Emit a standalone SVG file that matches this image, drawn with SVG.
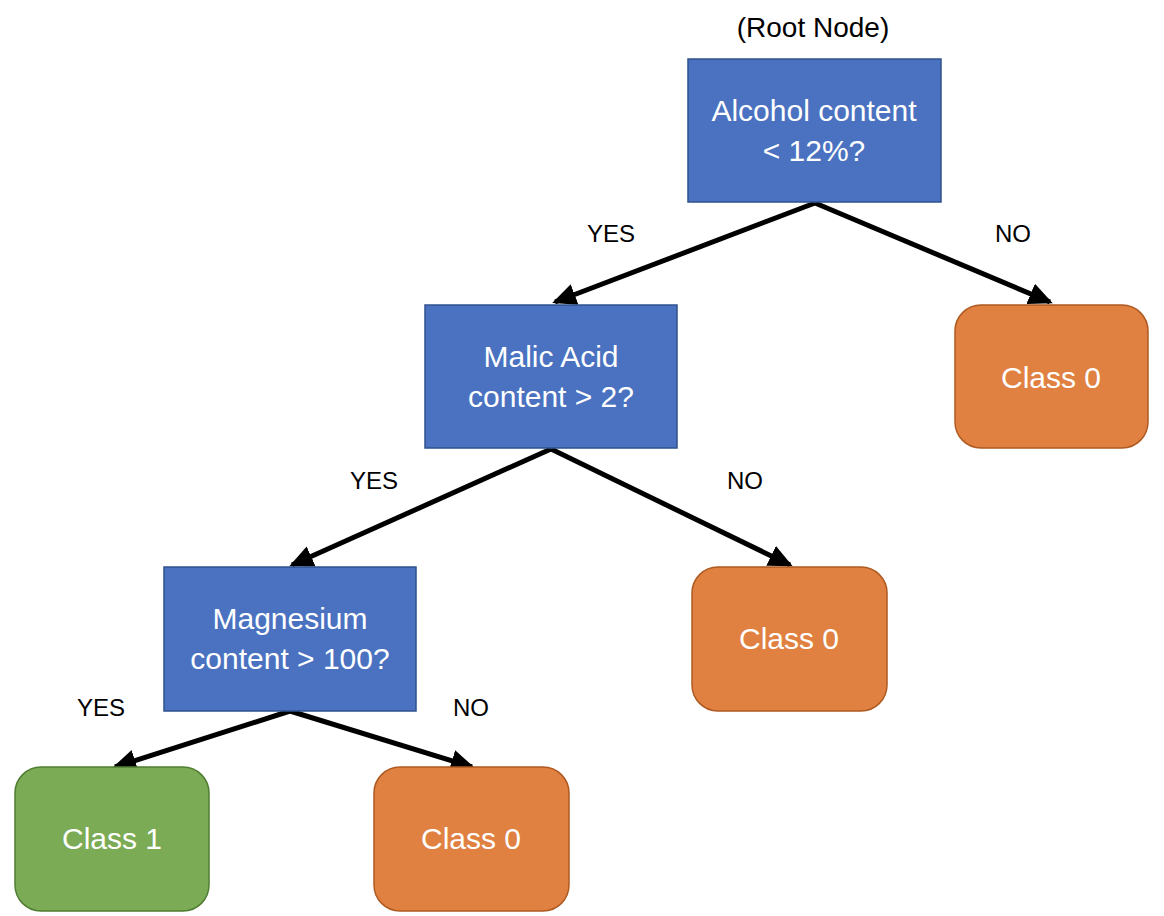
<svg xmlns="http://www.w3.org/2000/svg" width="1164" height="916" viewBox="0 0 1164 916">
<style>
.dec{fill:#4A72C0;stroke:#2F528F;stroke-width:1.5}
.c0{fill:#E08142;stroke:#AE5A21;stroke-width:1.5}
.c1{fill:#7BAB55;stroke:#507E32;stroke-width:1.5}
.nt{font-family:"Liberation Sans",Arial,sans-serif;font-size:30px;fill:#fff;text-anchor:middle}
.lb{font-family:"Liberation Sans",Arial,sans-serif;font-size:24px;fill:#000;text-anchor:middle}
.rl{font-family:"Liberation Sans",Arial,sans-serif;font-size:28px;fill:#000;text-anchor:middle}
.edge{stroke:#000;stroke-width:5;fill:none;marker-end:url(#ah)}
</style>
<defs>
<marker id="ah" markerUnits="userSpaceOnUse" markerWidth="26" markerHeight="22" refX="21" refY="11" orient="auto">
<path d="M0,0 L24,11 L0,22 Z" fill="#000"/>
</marker>
</defs>
<rect width="1164" height="916" fill="#fff"/>
<text class="rl" x="813" y="37">(Root Node)</text>
<g id="connectors">
<path class="edge" d="M815,203 L555,302"/>
<path class="edge" d="M815,203 L1050,302"/>
<path class="edge" d="M551,449 L292,565"/>
<path class="edge" d="M551,449 L790,565"/>
<path class="edge" d="M290,711 L115,767"/>
<path class="edge" d="M290,711 L472,767"/>
<text class="lb" x="611" y="242">YES</text>
<text class="lb" x="1013" y="242">NO</text>
<text class="lb" x="374" y="489">YES</text>
<text class="lb" x="745" y="489">NO</text>
<text class="lb" x="101" y="716">YES</text>
<text class="lb" x="471" y="716">NO</text>
</g>
<g id="root">
<rect class="dec" x="688" y="59" width="253" height="143"/>
<text class="nt" x="814" y="121">Alcohol content</text>
<text class="nt" x="814" y="161">&lt; 12%?</text>
</g>
<g id="malic">
<rect class="dec" x="425" y="305" width="252" height="143"/>
<text class="nt" x="551" y="367">Malic Acid</text>
<text class="nt" x="551" y="407">content &gt; 2?</text>
</g>
<g id="magnesium">
<rect class="dec" x="164" y="567" width="252" height="144"/>
<text class="nt" x="290" y="629">Magnesium</text>
<text class="nt" x="290" y="669">content &gt; 100?</text>
</g>
<g id="class0a">
<rect class="c0" x="955" y="305" width="193" height="143" rx="26"/>
<text class="nt" x="1051" y="388">Class 0</text>
</g>
<g id="class0b">
<rect class="c0" x="692" y="567" width="195" height="144" rx="26"/>
<text class="nt" x="789" y="649">Class 0</text>
</g>
<g id="class1">
<rect class="c1" x="15" y="767" width="194" height="144" rx="26"/>
<text class="nt" x="112" y="849">Class 1</text>
</g>
<g id="class0c">
<rect class="c0" x="374" y="767" width="195" height="144" rx="26"/>
<text class="nt" x="471" y="849">Class 0</text>
</g>
</svg>
